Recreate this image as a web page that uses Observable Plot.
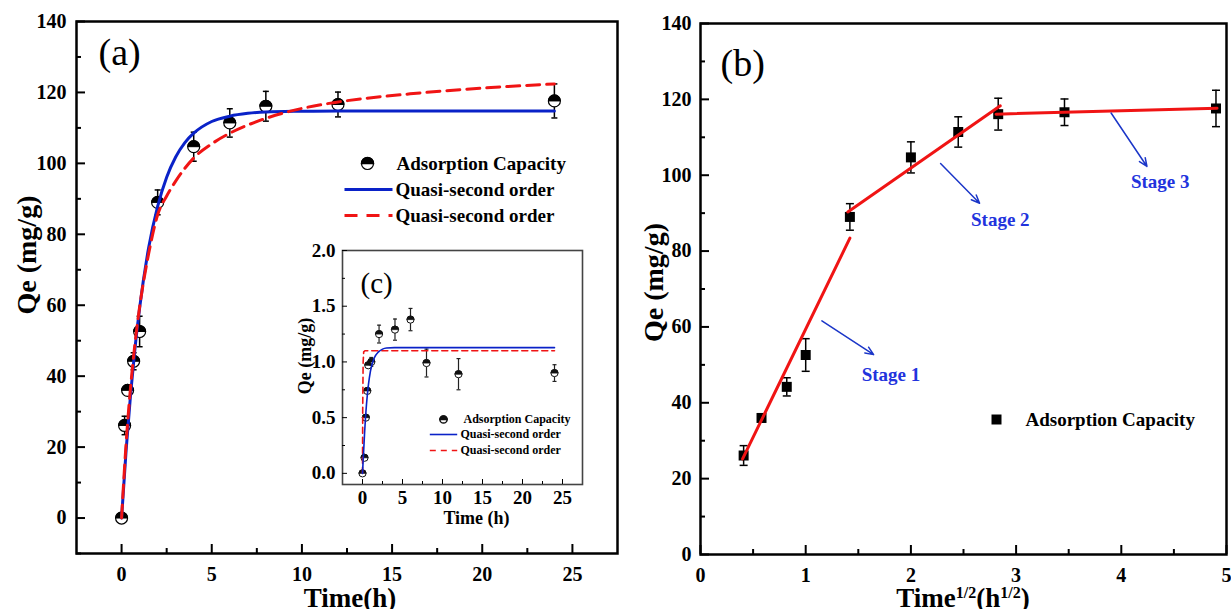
<!DOCTYPE html>
<html><head><meta charset="utf-8">
<script src="https://cdn.jsdelivr.net/npm/d3@7"></script>
<script src="https://cdn.jsdelivr.net/npm/@observablehq/plot@0.6"></script>
<style>
body{margin:0;background:#fff;}
#wrap{position:relative;width:1231px;height:609px;overflow:hidden;background:#fff;}
#wrap svg{position:absolute;}
</style></head><body><div id="wrap"></div>
<script>
// ---------- data: panel (a) ----------
const timeH   = [0, 0.167, 0.333, 0.667, 1, 2, 4, 6, 8, 12, 24];
const qeMain  = [0, 26.1, 36.0, 44.2, 52.6, 89.0, 104.7, 111.4, 116.1, 116.6, 117.6];
const qeErr   = [0, 2.6, 1.0, 2.4, 4.3, 3.5, 4.1, 4.0, 4.2, 3.5, 4.8];
const blueT = [0, 0.25, 0.5, 0.75, 1, 1.5, 2, 2.5, 3, 3.5, 4, 5, 6, 7, 8, 10, 12, 16, 20, 24];
const blueQ = [0, 19.0, 34.9, 48.2, 59.2, 76.2, 87.9, 96.1, 101.8, 105.8, 108.5, 111.8, 113.3, 114.1, 114.5, 114.7, 114.8, 114.8, 114.8, 114.8];
const redT = [0, 0.25, 0.5, 0.75, 1, 1.5, 2, 2.5, 3, 4, 5, 6, 7, 8, 10, 12, 16, 20, 24];
const redQ = [0, 21.0, 37.0, 49.5, 59.5, 74.5, 85.5, 90.8, 95.0, 101.5, 105.5, 108.5, 110.8, 112.7, 115.5, 117.3, 119.6, 121.2, 122.4];
const xTicksA = [0, 5, 10, 15, 20, 25];
const xMinorA = [2.5, 7.5, 12.5, 17.5, 22.5];
const yTicksA = [0, 20, 40, 60, 80, 100, 120, 140];
const yMinorA = [-10, 10, 30, 50, 70, 90, 110, 130];

// ---------- data: inset (c) ----------
const insetT   = [0, 0.25, 0.42, 0.6, 0.72, 1.1, 2.07, 4.06, 6, 8, 12, 24];
const insetQ   = [0, 0.14, 0.50, 0.74, 0.97, 1.00, 1.25, 1.29, 1.38, 0.99, 0.89, 0.90];
const insetErr = [0, 0.01, 0.01, 0.01, 0.02, 0.04, 0.08, 0.095, 0.10, 0.125, 0.14, 0.075];
const insetBlueT = [0, 0.25, 0.5, 0.75, 1, 1.5, 2, 2.5, 3, 4, 24];
const insetBlueQ = [0, 0.35, 0.62, 0.80, 0.92, 1.04, 1.09, 1.115, 1.125, 1.128, 1.128];
const insetRedT = [0, 0.03, 0.08, 0.15, 0.3, 24];
const insetRedQ = [0, 0.6, 1.0, 1.09, 1.10, 1.10];
const xTicksC = [0, 5, 10, 15, 20, 25];
const xMinorC = [2.5, 7.5, 12.5, 17.5, 22.5];
const yTicksC = [0, 0.5, 1.0, 1.5, 2.0];
const yMinorC = [0.25, 0.75, 1.25, 1.75];

// ---------- data: panel (b) ----------
const sqrtT  = [0.41, 0.58, 0.82, 1.0, 1.42, 2.0, 2.45, 2.83, 3.46, 4.9];
const qeB    = [26.1, 36.0, 44.2, 52.6, 89.0, 104.7, 111.4, 116.1, 116.6, 117.6];
const errB   = [2.6, 1.0, 2.4, 4.3, 3.5, 4.1, 4.0, 4.2, 3.5, 4.8];
const fitStage = [1, 1, 2, 2, 3, 3];
const fitX     = [0.40, 1.42, 1.40, 2.85, 2.81, 4.91];
const fitY     = [25.2, 83.4, 90.3, 118.3, 116.1, 117.65];
const stageLabels = ["Stage 1", "Stage 2", "Stage 3"];
const stageX = [1.81, 2.85, 4.37];
const stageY = [47.3, 88.1, 98.3];
const arrowX1 = [1.154, 2.282, 3.903];
const arrowY1 = [61.6, 103.1, 116.4];
const arrowX2 = [1.646, 2.653, 4.244];
const arrowY2 = [52.7, 92.6, 102.3];
const xTicksB = [0, 1, 2, 3, 4, 5];
const xMinorB = [0.5, 1.5, 2.5, 3.5, 4.5];
const yTicksB = [0, 20, 40, 60, 80, 100, 120, 140];
const yMinorB = [10, 30, 50, 70, 90, 110, 130];

// ---------- styles ----------
const serif = '"Liberation Serif", "Times New Roman", serif';
const BLUE = "#0a22c8", RED = "#f01414", STAGE = "#2233dd", ARROW = "#1b36c8";
const halfTop = {draw(ctx, size) { const r = Math.sqrt(size / Math.PI); ctx.moveTo(r, 0); ctx.arc(0, 0, r, 0, Math.PI, true); ctx.closePath(); }};
const hseg = {draw(ctx, size) { const r = Math.sqrt(size / Math.PI); ctx.moveTo(-r, 0); ctx.lineTo(r, 0); }};

function frameAxes({xMajor, xMinor, yMajor, yMinor, fontSize, major, minor, xOff, yOff, sw, yFmt}) {
  return [
    Plot.axisX(xMajor, {anchor: "bottom", tickSize: -major, tickPadding: xOff + major, fontSize, fontWeight: "bold", label: null, strokeWidth: sw, fill: "black"}),
    Plot.axisX(xMinor, {anchor: "bottom", tickSize: -minor, tickFormat: () => "", label: null, strokeWidth: sw}),
    Plot.axisY(yMajor, {anchor: "left", tickSize: -major, tickPadding: yOff + major, fontSize, fontWeight: "bold", label: null, strokeWidth: sw, tickFormat: yFmt, fill: "black"}),
    Plot.axisY(yMinor, {anchor: "left", tickSize: -minor, tickFormat: () => "", label: null, strokeWidth: sw})
  ];
}
function errRows(xs, ys, es) { return xs.map((x, i) => ({x, y: ys[i], lo: ys[i] - es[i], hi: ys[i] + es[i], e: es[i]})).filter(d => d.e > 0); }
// a frame-anchored text, vertically centred on its anchor point
function label(text, frameAnchor, dx, dy, extra) {
  return Plot.text([text], {text: d => d, frameAnchor, dx, dy, lineAnchor: "middle", ...extra});
}
// rotated axis title placed relative to the frame's left edge / vertical centre
function yTitle(svg, L, text, dx, dy, size) {
  const x = L.ml + dx, y = L.mt + (L.h - L.mt - L.mb) / 2 + dy;
  d3.select(svg).append("text")
    .attr("transform", `translate(${x},${y}) rotate(-90)`)
    .attr("text-anchor", "middle").attr("dy", "0.35em")
    .attr("font-family", serif).attr("font-weight", "bold").attr("font-size", size).attr("fill", "black")
    .text(text);
}

const wrap = document.getElementById("wrap");
const legendFont = {textAnchor: "start", fontSize: 19, fontWeight: "bold"};
const insetFont = {textAnchor: "start", fontSize: 12, fontWeight: "bold"};

// ---------- panel (a) ----------
const A = {w: 625, h: 609, ml: 76, mr: 8, mt: 21, mb: 56};
const ptsA = timeH.map((t, i) => ({x: t, y: qeMain[i]}));
const errA = errRows(timeH, qeMain, qeErr);
const blueA = blueT.map((t, i) => ({x: t, y: blueQ[i]}));
const redA = redT.map((t, i) => ({x: t, y: redQ[i]}));
const plotA = Plot.plot({
  width: A.w, height: A.h, marginLeft: A.ml, marginRight: A.mr, marginTop: A.mt, marginBottom: A.mb,
  style: {fontFamily: serif, background: "transparent", color: "black"},
  x: {domain: [-2.5, 27.5]}, y: {domain: [-10, 140]},
  marks: [
    ...frameAxes({xMajor: xTicksA, xMinor: xMinorA, yMajor: yTicksA, yMinor: yMinorA, fontSize: 20, major: 9, minor: 5, xOff: 13, yOff: 10, sw: 2}),
    Plot.frame({stroke: "black", strokeWidth: 2.5}),
    Plot.ruleX(errA, {x: "x", y1: "lo", y2: "hi", stroke: "black", strokeWidth: 1.5}),
    Plot.dot(errA, {x: "x", y: "lo", symbol: hseg, r: 3, stroke: "black", strokeWidth: 1.5, fill: "none"}),
    Plot.dot(errA, {x: "x", y: "hi", symbol: hseg, r: 3, stroke: "black", strokeWidth: 1.5, fill: "none"}),
    Plot.dot(ptsA, {x: "x", y: "y", r: 6, fill: "white", stroke: "black", strokeWidth: 1.2}),
    Plot.dot(ptsA, {x: "x", y: "y", r: 6, symbol: halfTop, fill: "black", stroke: "black", strokeWidth: 1}),
    Plot.line(blueA, {x: "x", y: "y", stroke: BLUE, strokeWidth: 3, curve: "monotone-x"}),
    Plot.line(redA, {x: "x", y: "y", stroke: RED, strokeWidth: 3, strokeDasharray: "13,7", curve: "monotone-x"}),
    label("(a)", "top-left", 22, 31, {textAnchor: "start", fontSize: 38}),
    label("Time(h)", "bottom", 3, 45, {fontSize: 27, fontWeight: "bold"}),
    // legend
    Plot.dot([0], {frameAnchor: "top-left", dx: 291, dy: 142, r: 6, fill: "white", stroke: "black", strokeWidth: 1.2}),
    Plot.dot([0], {frameAnchor: "top-left", dx: 291, dy: 142, r: 6, symbol: halfTop, fill: "black", stroke: "black"}),
    label("Adsorption Capacity", "top-left", 320, 142, legendFont),
    Plot.dot([0], {frameAnchor: "top-left", dx: 292, dy: 168, r: 24, symbol: hseg, stroke: BLUE, strokeWidth: 3, fill: "none"}),
    label("Quasi-second order", "top-left", 319, 168, legendFont),
    Plot.dot([0], {frameAnchor: "top-left", dx: 292, dy: 194, r: 24, symbol: hseg, stroke: RED, strokeWidth: 3, strokeDasharray: "13,9", fill: "none"}),
    label("Quasi-second order", "top-left", 319, 194, legendFont)
  ]
});
plotA.style.left = "0px"; plotA.style.top = "0px";
yTitle(plotA, A, "Qe (mg/g)", -50, -32, 28);
wrap.appendChild(plotA);

// ---------- inset (c) ----------
const C = {left: 290, top: 240, w: 300, h: 290, ml: 52, mr: 8, mt: 10, mb: 46};
const ptsC = insetT.map((t, i) => ({x: t, y: insetQ[i]}));
const errC = errRows(insetT, insetQ, insetErr);
const blueC = insetBlueT.map((t, i) => ({x: t, y: insetBlueQ[i]}));
const redC = insetRedT.map((t, i) => ({x: t, y: insetRedQ[i]}));
const plotC = Plot.plot({
  width: C.w, height: C.h, marginLeft: C.ml, marginRight: C.mr, marginTop: C.mt, marginBottom: C.mb,
  style: {fontFamily: serif, background: "transparent", color: "black"},
  x: {domain: [-2.5, 27.5]}, y: {domain: [-0.1, 2.0]},
  marks: [
    Plot.frame({fill: "white", stroke: "#444", strokeWidth: 1.6}),
    ...frameAxes({xMajor: xTicksC, xMinor: xMinorC, yMajor: yTicksC, yMinor: yMinorC, fontSize: 19, major: 5, minor: 3, xOff: 6, yOff: 7, sw: 1, yFmt: d3.format(".1f")}),
    Plot.ruleX(errC, {x: "x", y1: "lo", y2: "hi", stroke: "#222", strokeWidth: 1.2}),
    Plot.dot(errC, {x: "x", y: "lo", symbol: hseg, r: 2, stroke: "#222", strokeWidth: 1.2, fill: "none"}),
    Plot.dot(errC, {x: "x", y: "hi", symbol: hseg, r: 2, stroke: "#222", strokeWidth: 1.2, fill: "none"}),
    Plot.dot(ptsC, {x: "x", y: "y", r: 3.6, fill: "white", stroke: "#111", strokeWidth: 1}),
    Plot.dot(ptsC, {x: "x", y: "y", r: 3.6, symbol: halfTop, fill: "#111", stroke: "#111", strokeWidth: 0.8}),
    Plot.line(redC, {x: "x", y: "y", stroke: RED, strokeWidth: 1.6, strokeDasharray: "6,4"}),
    Plot.line(blueC, {x: "x", y: "y", stroke: BLUE, strokeWidth: 1.6, curve: "monotone-x"}),
    label("(c)", "top-left", 18, 33, {textAnchor: "start", fontSize: 29}),
    label("Time (h)", "bottom", 14, 34, {fontSize: 18, fontWeight: "bold"}),
    // legend
    Plot.dot([0], {frameAnchor: "top-left", dx: 101, dy: 169, r: 3.6, fill: "white", stroke: "#111"}),
    Plot.dot([0], {frameAnchor: "top-left", dx: 101, dy: 169, r: 3.6, symbol: halfTop, fill: "#111", stroke: "#111"}),
    label("Adsorption Capacity", "top-left", 121, 169, insetFont),
    Plot.dot([0], {frameAnchor: "top-left", dx: 101, dy: 184, r: 13.7, symbol: hseg, stroke: BLUE, strokeWidth: 1.6, fill: "none"}),
    label("Quasi-second order", "top-left", 118, 184, insetFont),
    Plot.dot([0], {frameAnchor: "top-left", dx: 101, dy: 200, r: 13.7, symbol: hseg, stroke: RED, strokeWidth: 1.6, strokeDasharray: "6,5", fill: "none"}),
    label("Quasi-second order", "top-left", 118, 200, insetFont)
  ]
});
plotC.style.left = C.left + "px"; plotC.style.top = C.top + "px";
yTitle(plotC, C, "Qe (mg/g)", -37, -11, 18);
wrap.appendChild(plotC);

// ---------- panel (b) ----------
const B = {left: 630, w: 601, h: 609, ml: 70, mr: 5, mt: 23, mb: 55};
const ptsB = sqrtT.map((x, i) => ({x, y: qeB[i]}));
const errBRows = errRows(sqrtT, qeB, errB);
const fitRows = fitX.map((x, i) => ({x, y: fitY[i], stage: fitStage[i]}));
const stageRows = stageLabels.map((s, i) => ({text: s, x: stageX[i], y: stageY[i]}));
const arrowRows = arrowX1.map((x1, i) => ({x1, y1: arrowY1[i], x2: arrowX2[i], y2: arrowY2[i]}));
const plotB = Plot.plot({
  width: B.w, height: B.h, marginLeft: B.ml, marginRight: B.mr, marginTop: B.mt, marginBottom: B.mb,
  style: {fontFamily: serif, background: "transparent", color: "black"},
  x: {domain: [0, 5]}, y: {domain: [0, 140]},
  marks: [
    ...frameAxes({xMajor: xTicksB, xMinor: xMinorB, yMajor: yTicksB, yMinor: yMinorB, fontSize: 20, major: 9, minor: 5, xOff: 13, yOff: 9, sw: 2}),
    Plot.frame({stroke: "black", strokeWidth: 2.5}),
    Plot.ruleX(errBRows, {x: "x", y1: "lo", y2: "hi", stroke: "black", strokeWidth: 1.5}),
    Plot.dot(errBRows, {x: "x", y: "lo", symbol: hseg, r: 4, stroke: "black", strokeWidth: 1.5, fill: "none"}),
    Plot.dot(errBRows, {x: "x", y: "hi", symbol: hseg, r: 4, stroke: "black", strokeWidth: 1.5, fill: "none"}),
    Plot.dot(ptsB, {x: "x", y: "y", symbol: "square", r: 5.64, fill: "black"}),
    Plot.line(fitRows, {x: "x", y: "y", z: "stage", stroke: RED, strokeWidth: 3}),
    Plot.arrow(arrowRows, {x1: "x1", y1: "y1", x2: "x2", y2: "y2", stroke: ARROW, strokeWidth: 1.5, headLength: 9, headAngle: 45}),
    Plot.text(stageRows, {x: "x", y: "y", text: "text", fill: STAGE, fontSize: 19, fontWeight: "bold"}),
    label("(b)", "top-left", 20, 40, {textAnchor: "start", fontSize: 38}),
    // legend
    Plot.dot([0], {frameAnchor: "top-left", dx: 296, dy: 396, symbol: "square", r: 5.64, fill: "black"}),
    label("Adsorption Capacity", "top-left", 325, 396, legendFont)
  ]
});
plotB.style.left = B.left + "px"; plotB.style.top = "0px";
yTitle(plotB, B, "Qe (mg/g)", -47, -6, 28);
wrap.appendChild(plotB);

// x-axis title with superscripts for (b)
const cxB = B.ml + (B.w - B.ml - B.mr) / 2;
const tB = d3.select(plotB).append("text")
  .attr("x", cxB).attr("y", B.h - 2).attr("text-anchor", "middle")
  .attr("font-family", serif).attr("font-weight", "bold").attr("font-size", 27).attr("fill", "black");
tB.append("tspan").text("Time");
tB.append("tspan").attr("font-size", 16).attr("dy", -9).text("1/2");
tB.append("tspan").attr("dy", 9).text("(h");
tB.append("tspan").attr("font-size", 16).attr("dy", -9).text("1/2");
tB.append("tspan").attr("dy", 9).text(")");
</script>
</body></html>
